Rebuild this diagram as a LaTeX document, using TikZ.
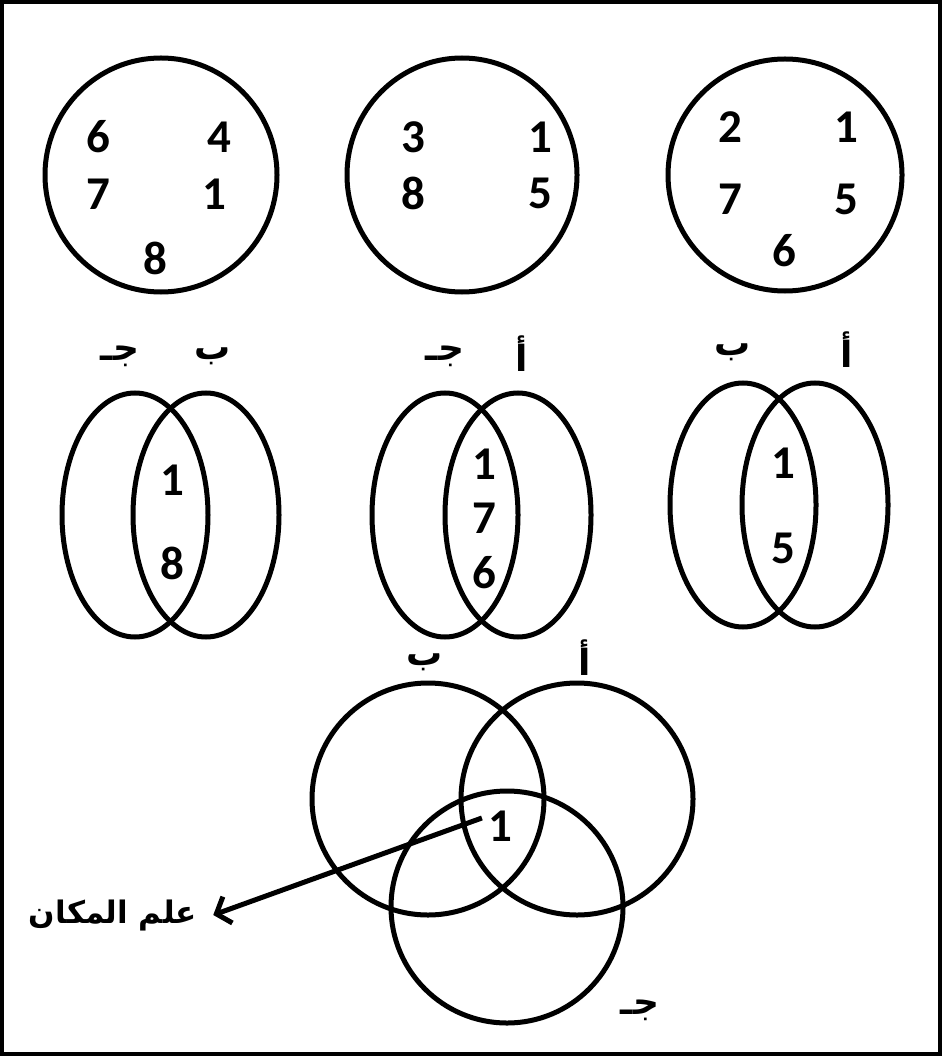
\documentclass[tikz,border=0pt]{standalone}
\usepackage{fontspec}
\setmainfont{Carlito}
\newfontfamily\arabicfont[Script=Arabic]{DejaVu Sans}
\TeXXeTstate=1
\usetikzlibrary{arrows.meta}
\begin{document}
\begin{tikzpicture}[x=1pt,y=-1pt,
  ring/.style={line width=5pt},
  num/.style={font=\fontsize{47}{47}\selectfont\bfseries, inner sep=0pt},
  ar/.style={font=\fontsize{36}{36}\selectfont\arabicfont\bfseries, inner sep=0pt},
  arl/.style={font=\fontsize{31}{31}\selectfont\arabicfont\bfseries, inner sep=0pt}]
\useasboundingbox (0,0) rectangle (942,1056);
\draw[line width=3.5pt] (2,2) rectangle (940,1054);
% top circles
\draw[ring] (161,175) ellipse [x radius=116, y radius=117];
\draw[ring] (462,175) ellipse [x radius=115, y radius=117];
\draw[ring] (785,175) ellipse [x radius=117, y radius=116];
\node[num] (a6) at (98,137) {6};
\node[num] (a4) at (219,137) {4};
\node[num] (a7) at (98,194) {7};
\node[num] (a1) at (214,194) {1};
\node[num] (a8) at (155,258) {8};
\node[num] (b3) at (413,137) {3};
\node[num] (b1) at (540,137) {1};
\node[num] (b8) at (413,193) {8};
\node[num] (b5) at (540,193) {5};
\node[num] (c2) at (730,127) {2};
\node[num] (c1) at (846,127) {1};
\node[num] (c7) at (730,199) {7};
\node[num] (c5) at (846,199) {5};
\node[num] (c6) at (784,251) {6};
% middle pairs
\draw[ring] (135,515) ellipse [x radius=73, y radius=122];
\draw[ring] (206,515) ellipse [x radius=73, y radius=122];
\draw[ring] (445,515) ellipse [x radius=73, y radius=122];
\draw[ring] (518,515) ellipse [x radius=73, y radius=122];
\draw[ring] (743,505) ellipse [x radius=73, y radius=122];
\draw[ring] (815,505) ellipse [x radius=73, y radius=122];
\node[ar] (l1) at (120,356) {\beginR جـ\endR};
\node[ar] (l2) at (213,356) {\beginR ب\endR};
\node[ar] (l3) at (445,356) {\beginR جـ\endR};
\node[ar] (l4) at (522,354) {\beginR أ\endR};
\node[ar] (l5) at (733,352) {\beginR ب\endR};
\node[ar] (l6) at (847,350) {\beginR أ\endR};
\node[num] (p1) at (172,480) {1};
\node[num] (p8) at (172,563) {8};
\node[num] (q1) at (484,464) {1};
\node[num] (q7) at (484,518) {7};
\node[num] (q6) at (484,573) {6};
\node[num] (r1) at (783,463) {1};
\node[num] (r5) at (783,548) {5};
% bottom three circles
\draw[ring] (428,799) circle [radius=116];
\draw[ring] (577,799) circle [radius=116];
\draw[ring] (507,907) circle [radius=116];
\node[ar] (lb) at (425,662) {\beginR ب\endR};
\node[ar] (la) at (585,658) {\beginR أ\endR};
\node[ar] (lc) at (640,1010) {\beginR جـ\endR};
\node[num] (one) at (500,826) {1};
\node[arl] (place) at (113,915) {\beginR علم المكان\endR};
\draw[line width=5pt,-{Straight Barb[length=12pt,width=28pt]}] ([xshift=-6pt,yshift=8pt]one.west) -- ([xshift=16pt]place.east);
\end{tikzpicture}
\end{document}
